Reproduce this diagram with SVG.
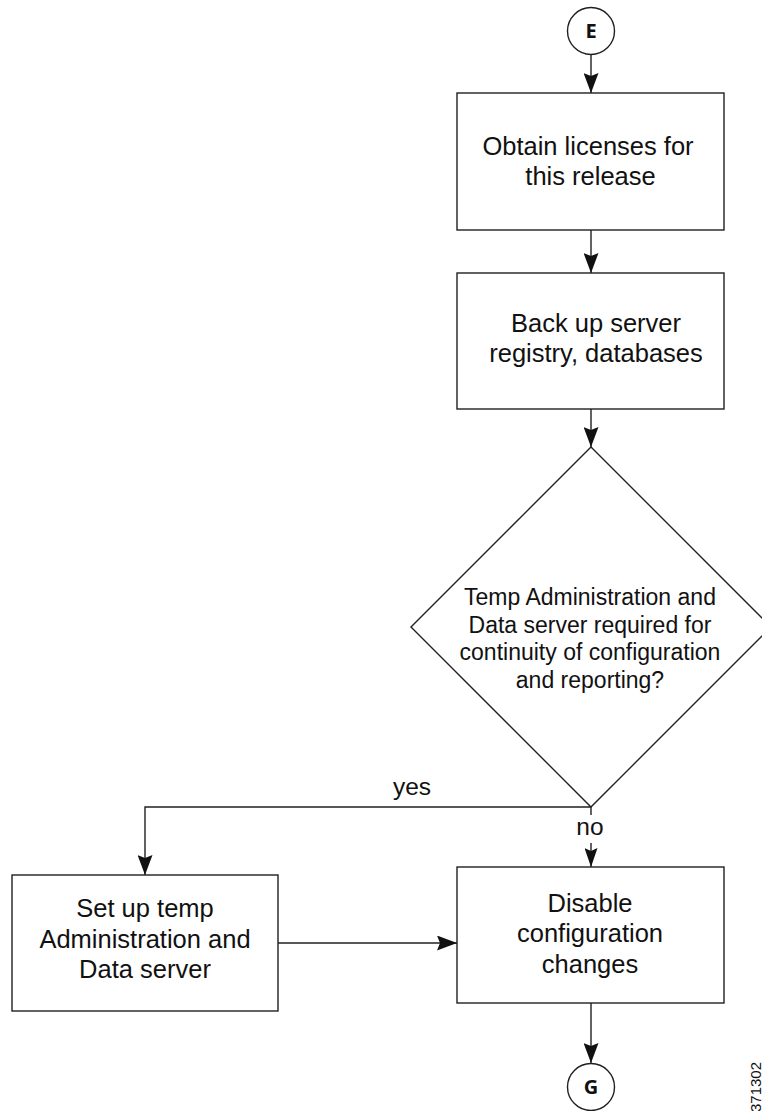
<svg xmlns="http://www.w3.org/2000/svg" width="762" height="1111" viewBox="0 0 762 1111">
<style>
.box{fill:#fff;stroke:#231f20;stroke-width:1.4}
.ln{fill:none;stroke:#231f20;stroke-width:1.4}
.t{font-family:"Liberation Sans",Arial,sans-serif;font-size:25.5px;fill:#111;text-anchor:middle}
.td{font-family:"Liberation Sans",Arial,sans-serif;font-size:23px;fill:#111;text-anchor:middle}
.c{font-family:"Open Sans","DejaVu Sans",sans-serif;font-size:20px;font-weight:bold;fill:#111;text-anchor:middle}
</style>
<defs>
<marker id="ah" markerWidth="20" markerHeight="15" refX="20" refY="7.5" viewBox="0 0 20 15" orient="auto" markerUnits="userSpaceOnUse">
<path d="M0,0 L20,7.5 L0,15 L3,7.5 Z" fill="#111"/>
</marker>
<marker id="ahs" markerWidth="19" markerHeight="13" refX="19" refY="6.5" viewBox="0 0 19 13" orient="auto" markerUnits="userSpaceOnUse">
<path d="M0,0 L19,6.5 L0,13 L3,6.5 Z" fill="#111"/>
</marker>
</defs>
<rect width="762" height="1111" fill="#fff"/>
<g id="connectors">
<line class="ln" x1="591" y1="54" x2="591" y2="93" marker-end="url(#ah)"/>
<line class="ln" x1="591" y1="230" x2="591" y2="273" marker-end="url(#ah)"/>
<line class="ln" x1="591" y1="409" x2="591" y2="447" marker-end="url(#ah)"/>
<polyline class="ln" points="591,807 145,807 145,875" marker-end="url(#ah)"/>
<line class="ln" x1="591" y1="807" x2="591" y2="815"/>
<line class="ln" x1="591" y1="843" x2="591" y2="867" marker-end="url(#ahs)"/>
<line class="ln" x1="278" y1="943" x2="457" y2="943" marker-end="url(#ah)"/>
<line class="ln" x1="591" y1="1003" x2="591" y2="1063" marker-end="url(#ah)"/>
<text class="t" x="412" y="795" style="font-size:24.5px">yes</text>
<text class="t" x="590" y="835" style="font-size:24.5px">no</text>
</g>
<g id="E">
<circle class="box" cx="591" cy="31" r="23.5"/>
<text class="c" x="591" y="38">E</text>
</g>
<g id="obtain">
<rect class="box" x="457" y="93" width="267" height="137"/>
<text class="t" x="588" y="155">Obtain licenses for</text>
<text class="t" x="590.5" y="185">this release</text>
</g>
<g id="backup">
<rect class="box" x="457" y="273" width="267" height="136"/>
<text class="t" x="596" y="332">Back up server</text>
<text class="t" x="596" y="362">registry, databases</text>
</g>
<g id="decision">
<polygon class="box" points="591,447 771,627 591,807 411,627"/>
<text class="td" x="590" y="605">Temp Administration and</text>
<text class="td" x="590" y="633">Data server required for</text>
<text class="td" x="590" y="660">continuity of configuration</text>
<text class="td" x="590" y="688">and reporting?</text>
</g>
<g id="setup">
<rect class="box" x="12" y="875" width="266" height="136"/>
<text class="t" x="145" y="917">Set up temp</text>
<text class="t" x="145" y="948">Administration and</text>
<text class="t" x="145" y="978">Data server</text>
</g>
<g id="disable">
<rect class="box" x="457" y="867" width="267" height="136"/>
<text class="t" x="590" y="912">Disable</text>
<text class="t" x="590" y="942">configuration</text>
<text class="t" x="590" y="973">changes</text>
</g>
<g id="G">
<circle class="box" cx="591" cy="1087" r="23.5"/>
<text class="c" x="591" y="1094">G</text>
</g>
<text x="761" y="1087" transform="rotate(-90 761 1087)" style="font-family:'Liberation Sans',Arial,sans-serif;font-size:15px;fill:#111;text-anchor:middle">371302</text>
</svg>
